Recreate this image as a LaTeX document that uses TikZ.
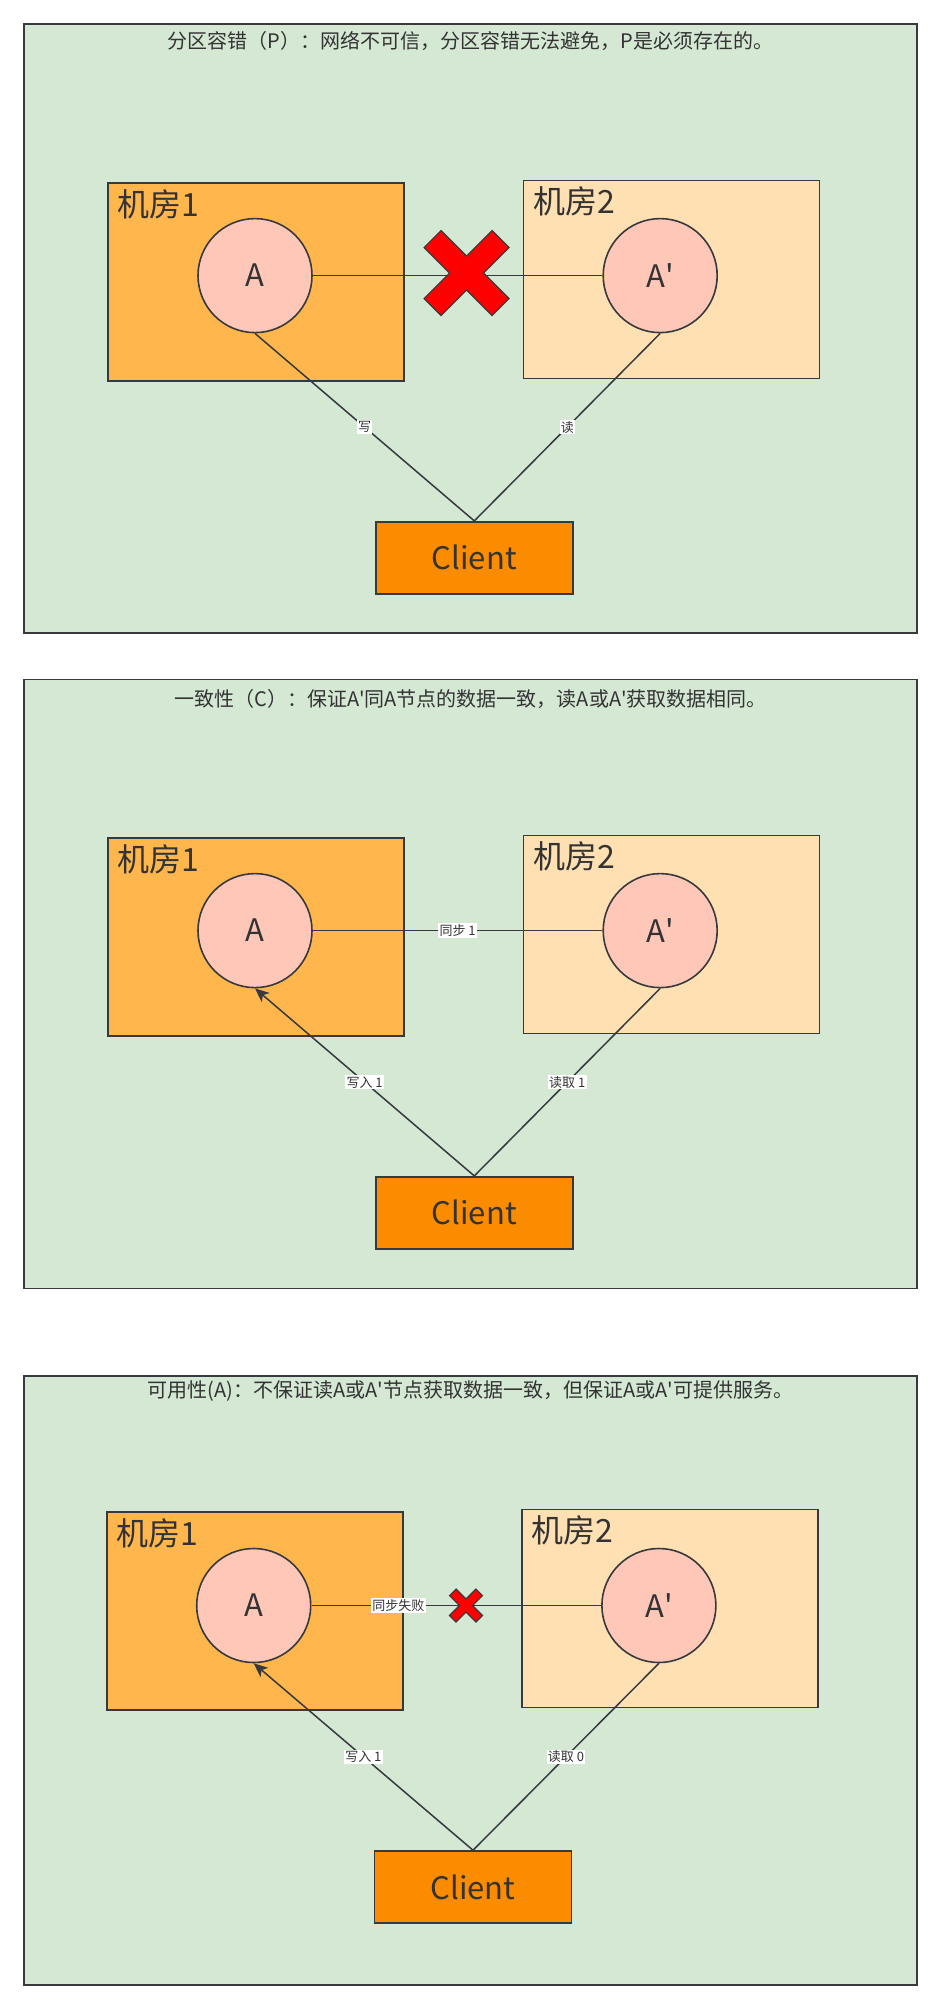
\documentclass[tikz,border=0pt]{standalone}
\usepackage{fontspec}
\setmainfont{Noto Sans CJK SC}
\usetikzlibrary{arrows.meta}
\definecolor{panel}{RGB}{213,232,212}
\definecolor{roomone}{RGB}{255,183,77}
\definecolor{roomtwo}{RGB}{255,224,178}
\definecolor{server}{RGB}{255,199,184}
\definecolor{client}{RGB}{251,140,0}
\definecolor{stroke}{RGB}{54,57,61}
\definecolor{ink}{RGB}{51,51,51}
\tikzstyle{frame}=[draw=stroke, fill=panel, line width=0.75pt, minimum width=446.5pt, minimum height=304.5pt, inner sep=0]
\tikzstyle{title}=[text=ink, inner sep=0, font=\fontsize{10}{10}\selectfont]
\tikzstyle{room}=[draw=stroke, line width=0.8pt, minimum width=148pt, minimum height=99pt, inner sep=0]
\tikzstyle{roomlabel}=[anchor=west, text=ink, inner sep=0, font=\fontsize{16}{16}\selectfont]
\tikzstyle{server}=[circle, draw=stroke, fill=server, line width=0.8pt, minimum size=57pt, inner sep=0, text=ink, font=\fontsize{15.5}{15.5}\selectfont]
\tikzstyle{client}=[draw=stroke, fill=client, line width=0.8pt, minimum width=98.5pt, minimum height=36pt, inner sep=0, text=ink, font=\fontsize{15.5}{15.5}\selectfont]
\tikzset{link/.style={draw=stroke, line width=0.75pt}}
\tikzset{write/.style={-{Stealth[length=7pt,width=6pt,inset=1.8pt]}}}
\tikzset{tag/.style={fill=white, inner sep=0.6pt, text=ink, font=\fontsize{6.5}{6.5}\selectfont}}
\newcommand{\failcross}[2]{%
  \begin{scope}[shift={(#1)}, scale=#2]
    \filldraw[fill=red, draw=stroke, line width=0.6pt] (-0.3,0.5) -- (0,0.2) -- (0.3,0.5) -- (0.5,0.3) -- (0.2,0) -- (0.5,-0.3)
      -- (0.3,-0.5) -- (0,-0.2) -- (-0.3,-0.5) -- (-0.5,-0.3) -- (-0.2,0) -- (-0.5,0.3) -- cycle;
  \end{scope}}
\newcommand{\Aq}{A\textquotesingle}

\begin{document}
\begin{tikzpicture}[x=0.5pt,y=-0.5pt]
  \useasboundingbox[fill=white] (0,0) rectangle (941,2009);

  %% Partition tolerance
  \draw (470.5,328.5) node[frame] (F1) {};
  \draw (470.5,41) node[title] (T1) {分区容错（P）：网络不可信，分区容错无法避免，P是必须存在的。};
  \draw (256,282) node[room,fill=roomone] (R11) {};
  \draw (671.5,279.5) node[room,fill=roomtwo] (R21) {};
  \draw ([shift={(10,22)}]R11.north west) node[roomlabel] (L11) {机房1};
  \draw ([shift={(10,22)}]R21.north west) node[roomlabel] (L21) {机房2};
  \draw (255,275.6) node[server] (A1) {A};
  \draw (660.2,275.6) node[server] (B1) {\Aq};
  \draw (474.3,557.7) node[client] (C1) {Client};
  \draw[link] (A1) -- (B1);
  \failcross{466.6,273}{85}
  \draw[link] (A1.south) -- (C1.north) node[midway,tag] {写};
  \draw[link] (B1.south) -- (C1.north) node[midway,tag] {读};

  %% Consistency
  \draw (470.5,984) node[frame] (F2) {};
  \draw (470.5,698.7) node[title] (T2) {一致性（C）：保证\Aq 同A节点的数据一致，读A或\Aq 获取数据相同。};
  \draw (256,937) node[room,fill=roomone] (R12) {};
  \draw (671.5,934.5) node[room,fill=roomtwo] (R22) {};
  \draw ([shift={(10,22)}]R12.north west) node[roomlabel] (L12) {机房1};
  \draw ([shift={(10,22)}]R22.north west) node[roomlabel] (L22) {机房2};
  \draw (255,930.6) node[server] (A2) {A};
  \draw (660.2,930.6) node[server] (B2) {\Aq};
  \draw (474.3,1212.7) node[client] (C2) {Client};
  \draw[link] (A2) -- (B2) node[midway,tag] {同步 1};
  \draw[link,write] (C2.north) -- (A2.south) node[midway,tag] {写入 1};
  \draw[link] (B2.south) -- (C2.north) node[midway,tag] {读取 1};

  %% Availability
  \draw (470.5,1680.5) node[frame] (F3) {};
  \draw (470.5,1391) node[title] (T3) {可用性(A)：不保证读A或\Aq 节点获取数据一致，但保证A或\Aq 可提供服务。};
  \draw (254.7,1611) node[room,fill=roomone] (R13) {};
  \draw (670.2,1608.5) node[room,fill=roomtwo] (R23) {};
  \draw ([shift={(10,22)}]R13.north west) node[roomlabel] (L13) {机房1};
  \draw ([shift={(10,22)}]R23.north west) node[roomlabel] (L23) {机房2};
  \draw (253.7,1605.5) node[server] (A3) {A};
  \draw (658.9,1605.5) node[server] (B3) {\Aq};
  \draw (473,1887) node[client] (C3) {Client};
  \draw[link] (A3) -- (B3) node[pos=0.3,tag] {同步失败};
  \failcross{466,1605.5}{33}
  \draw[link,write] (C3.north) -- (A3.south) node[midway,tag] {写入 1};
  \draw[link] (B3.south) -- (C3.north) node[midway,tag] {读取 0};
\end{tikzpicture}
\end{document}
